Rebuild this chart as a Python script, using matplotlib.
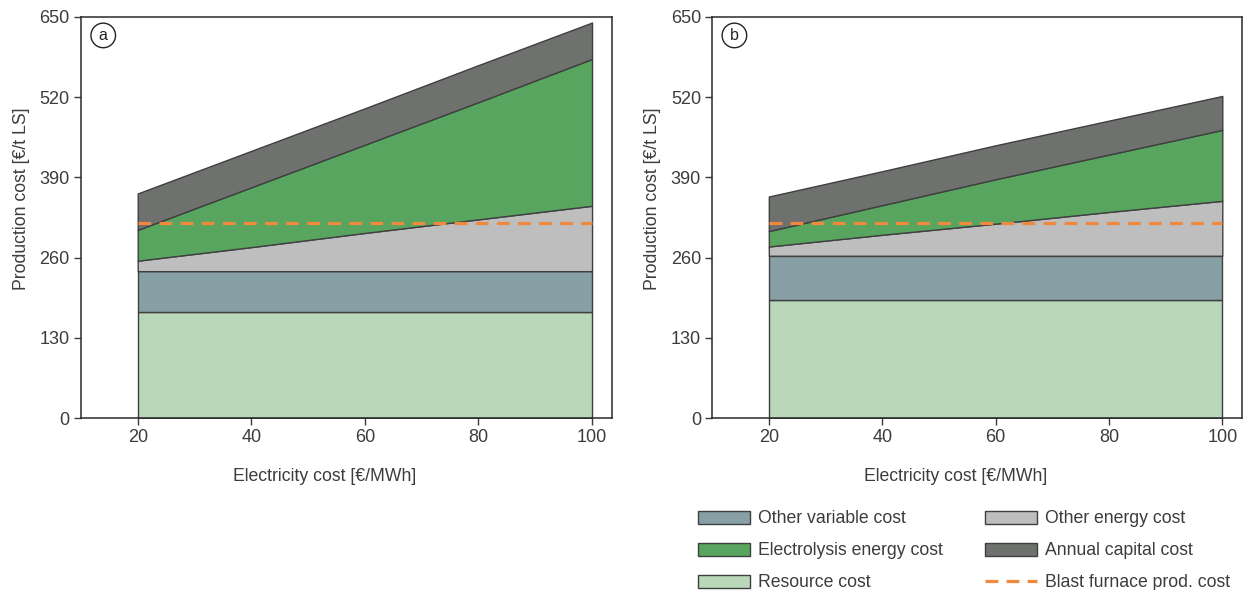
import matplotlib
matplotlib.use("Agg")
import matplotlib.pyplot as plt
from matplotlib.patches import Patch
from matplotlib.lines import Line2D

plt.rcParams['font.family'] = ['Liberation Sans', 'DejaVu Sans']

# ---- data ----
electricity_cost = [20, 40, 60, 80, 100]

# panel a (layer thicknesses, stacked)
a_resource = [172, 172, 172, 172, 172]
a_other_variable = [66, 66, 66, 66, 66]
a_other_energy = [17, 39, 62, 84, 106]
a_electrolysis = [50, 97, 143, 190, 238]
a_capital = [59, 59, 59, 60, 59]

# panel b
b_resource = [191, 191, 191, 191, 191]
b_other_variable = [72, 72, 72, 72, 72]
b_other_energy = [15, 34, 52, 71, 89]
b_electrolysis = [25, 48, 72, 93, 115]
b_capital = [56, 55, 55, 55, 55]

blast_furnace_cost = 316

layer_names = ["Resource cost", "Other variable cost", "Other energy cost",
               "Electrolysis energy cost", "Annual capital cost"]
layer_colors = ["#b9d8ba", "#86a0a6", "#bebebe", "#58a55f", "#6f716f"]
edge_color = "#3f3f3f"
bf_color = "#f0883e"
text_color = "#3c3c3c"

yticks = [0, 130, 260, 390, 520, 650]
xticks = [20, 40, 60, 80, 100]

fig = plt.figure(figsize=(12.45, 5.9), dpi=100)
ax_a = fig.add_axes([0.065, 0.2915, 0.4265, 0.6797])
ax_b = fig.add_axes([0.572, 0.2915, 0.4257, 0.6797])

panels = [
    (ax_a, "a", [a_resource, a_other_variable, a_other_energy, a_electrolysis, a_capital]),
    (ax_b, "b", [b_resource, b_other_variable, b_other_energy, b_electrolysis, b_capital]),
]

for ax, tag, layers in panels:
    base = [0.0] * len(electricity_cost)
    for vals, col in zip(layers, layer_colors):
        top = [b + v for b, v in zip(base, vals)]
        ax.fill_between(electricity_cost, base, top, facecolor=col,
                        edgecolor=edge_color, linewidth=1.0, zorder=2)
        base = top
    ax.plot([electricity_cost[0], electricity_cost[-1]],
            [blast_furnace_cost, blast_furnace_cost],
            color=bf_color, lw=2.3, linestyle=(0, (4, 2.6)), zorder=3)
    ax.set_xlim(10, 103.5)
    ax.set_ylim(0, 650)
    ax.set_xticks(xticks)
    ax.set_yticks(yticks)
    ax.tick_params(axis='both', direction='out', length=5, width=1,
                   colors=text_color, labelsize=13, pad=3)
    for s in ax.spines.values():
        s.set_color("#2a2a2a")
        s.set_linewidth(1.1)
    ax.set_xlabel("Electricity cost [€/MWh]", fontsize=12.7, color=text_color, labelpad=17)
    ax.xaxis.set_label_coords(0.459, -0.125)
    ax.set_ylabel("Production cost [€/t LS]", fontsize=12.7, color=text_color, labelpad=7)
    ax.yaxis.label.set_y(0.546)
    ax.text(0.042, 0.954, tag, transform=ax.transAxes, ha='center', va='center',
            fontsize=11.5, color="#222222",
            bbox=dict(boxstyle="circle,pad=0.3", fc="white", ec="#222222", lw=1.0),
            zorder=5)

handles = [
    Patch(facecolor=layer_colors[1], edgecolor=edge_color, label=layer_names[1]),
    Patch(facecolor=layer_colors[3], edgecolor=edge_color, label=layer_names[3]),
    Patch(facecolor=layer_colors[0], edgecolor=edge_color, label=layer_names[0]),
    Patch(facecolor=layer_colors[2], edgecolor=edge_color, label=layer_names[2]),
    Patch(facecolor=layer_colors[4], edgecolor=edge_color, label=layer_names[4]),
    Line2D([0], [0], color=bf_color, lw=2.3, linestyle=(0, (4, 2.6)),
           label="Blast furnace prod. cost"),
]
leg = fig.legend(handles=handles, ncol=2, loc='upper left',
                 bbox_to_anchor=(0.5548, 0.147), frameon=False, fontsize=12.7,
                 handlelength=2.95, handleheight=0.75, handletextpad=0.45,
                 columnspacing=2.4, labelspacing=0.85, borderaxespad=0)
for t in leg.get_texts():
    t.set_color(text_color)

fig.savefig("out.png", dpi=100)
